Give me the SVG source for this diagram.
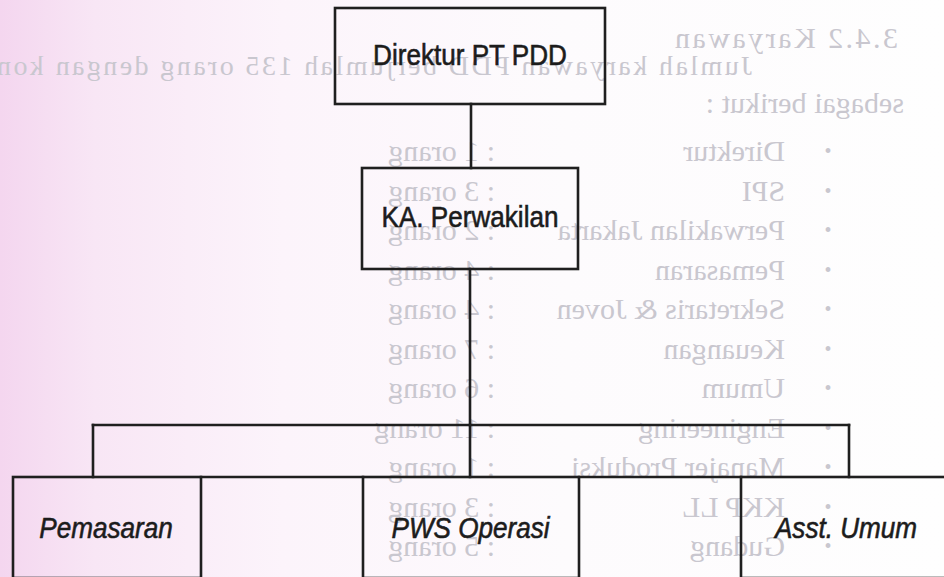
<svg xmlns="http://www.w3.org/2000/svg" width="944" height="577" viewBox="0 0 944 577">
<defs>
<linearGradient id="paper" x1="0" y1="0" x2="1" y2="0">
<stop offset="0" stop-color="#f4d6ef"/>
<stop offset="0.1" stop-color="#f8e6f5"/>
<stop offset="0.3" stop-color="#fcf4fb"/>
<stop offset="0.6" stop-color="#fdfbfd"/>
<stop offset="1" stop-color="#fefefe"/>
</linearGradient>
<style>
.box{fill:none;stroke:#1f1f1f;stroke-width:2.6}
.conn{fill:none;stroke:#1f1f1f;stroke-width:2.6;stroke-linecap:square}
.lbl{font-family:"Liberation Sans",Arial,sans-serif;font-size:30px;fill:#1c1c1c;stroke:#1c1c1c;stroke-width:0.6;text-anchor:middle}
.it{font-style:italic}
.faint{font-family:"Liberation Serif","Times New Roman",serif;font-size:30px;fill:#c9c7cf}
.bul{font-size:20px;text-anchor:middle}
</style>
</defs>
<rect x="0" y="0" width="944" height="577" fill="url(#paper)"/>

<g id="bleed-through" class="faint" transform="matrix(-1 0 0 1 944 0)">
<text x="46" y="48" textLength="223">3.4.2 Karyawan</text>
<text x="192" y="75" font-size="28" textLength="755">Jumlah karyawan PDD berjumlah 135 orang  dengan kon</text>
<text x="40" y="113">sebagai berikut :</text>
<g class="bul">
<text x="116" y="158">•</text><text x="116" y="197.5">•</text><text x="116" y="237">•</text><text x="116" y="276.5">•</text>
<text x="116" y="316">•</text><text x="116" y="355.5">•</text><text x="116" y="395">•</text><text x="116" y="434.5">•</text>
<text x="116" y="474">•</text><text x="116" y="513.5">•</text><text x="116" y="553">•</text>
</g>
<text x="159" y="161">Direktur</text>
<text x="159" y="200.5">SPI</text>
<text x="159" y="240">Perwakilan Jakarta</text>
<text x="159" y="279.5">Pemasaran</text>
<text x="159" y="319">Sekretaris &amp; Joven</text>
<text x="159" y="358.5">Keuangan</text>
<text x="159" y="398">Umum</text>
<text x="159" y="437.5">Engineering</text>
<text x="159" y="477">Manajer Produksi</text>
<text x="159" y="516.5">KKP LL</text>
<text x="159" y="556">Gudang</text>
<text x="449" y="161">: 1 orang</text>
<text x="449" y="200.5">: 3 orang</text>
<text x="449" y="240">: 2 orang</text>
<text x="449" y="279.5">: 4 orang</text>
<text x="449" y="319">: 4 orang</text>
<text x="449" y="358.5">: 7 orang</text>
<text x="449" y="398">: 6 orang</text>
<text x="449" y="437.5">: 11 orang</text>
<text x="449" y="477">: 1 orang</text>
<text x="449" y="516.5">: 3 orang</text>
<text x="449" y="556">: 5 orang</text>
</g>

<g id="connectors">
<path class="conn" d="M471 104 V168"/>
<path class="conn" d="M470 269 V425"/>
<path class="conn" d="M93 425 H849"/>
<path class="conn" d="M93 425 V477 M470 425 V477 M849 425 V477"/>
<path class="conn" d="M201 477 H363 M579 477 H741"/>
</g>

<g id="n-direktur">
<rect class="box" x="335" y="8" width="270" height="96"/>
<text class="lbl" transform="translate(470,65) scale(0.87,1)">Direktur PT PDD</text>
</g>
<g id="n-ka-perwakilan">
<rect class="box" x="362" y="168" width="216" height="101"/>
<text class="lbl" transform="translate(470,227) scale(0.87,1)">KA. Perwakilan</text>
</g>
<g id="n-pemasaran">
<rect class="box" x="13" y="477" width="188" height="101"/>
<text class="lbl it" transform="translate(106,538) scale(0.87,1)">Pemasaran</text>
</g>
<g id="n-pws-operasi">
<rect class="box" x="363" y="477" width="216" height="101"/>
<text class="lbl it" transform="translate(470.5,538) scale(0.87,1)">PWS Operasi</text>
</g>
<g id="n-asst-umum">
<rect class="box" x="741" y="477" width="230" height="101"/>
<text class="lbl it" transform="translate(846,538) scale(0.87,1)">Asst. Umum</text>
</g>
</svg>
